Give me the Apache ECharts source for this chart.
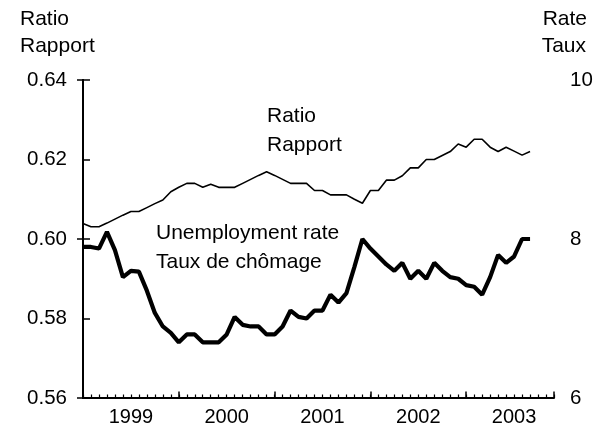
<!DOCTYPE html>
<html>
<head>
<meta charset="utf-8">
<script src="https://cdn.jsdelivr.net/npm/echarts@6/dist/echarts.min.js"></script>
<style>
  html, body { margin: 0; padding: 0; background: #fff; }
  #chart { width: 598px; height: 427px; }
</style>
</head>
<body>
<div id="chart"></div>
<script>
// monthly data, index 0 = Jan 1999
const yearLabels = ["1999", "2000", "2001", "2002", "2003"];
const ratioValues = [
  0.6039, 0.6031, 0.6031, 0.6040, 0.6050, 0.6060, 0.6069, 0.6069, 0.6079, 0.6089, 0.6098, 0.6119,
  0.6130, 0.6140, 0.6140, 0.6130, 0.6138, 0.6130, 0.6130, 0.6130, 0.6140, 0.6150, 0.6160, 0.6169,
  0.6160, 0.6150, 0.6140, 0.6140, 0.6140, 0.6122, 0.6122, 0.6111, 0.6111, 0.6111, 0.6100, 0.6090,
  0.6122, 0.6122, 0.6148, 0.6148, 0.6159, 0.6179, 0.6179, 0.6200, 0.6200, 0.6210, 0.6220, 0.6239,
  0.6231, 0.6251, 0.6251, 0.6231, 0.6220, 0.6231, 0.6221, 0.6211, 0.6220
];
const unempValues = [
  7.90, 7.90, 7.88, 8.09, 7.86, 7.52, 7.60, 7.59, 7.35, 7.07, 6.90, 6.82,
  6.70, 6.80, 6.80, 6.70, 6.70, 6.70, 6.80, 7.02, 6.92, 6.90, 6.90, 6.80,
  6.80, 6.90, 7.10, 7.02, 7.00, 7.10, 7.10, 7.30, 7.20, 7.32, 7.65, 8.00,
  7.88, 7.78, 7.68, 7.60, 7.70, 7.50, 7.60, 7.50, 7.70, 7.60, 7.52, 7.50,
  7.42, 7.40, 7.30, 7.52, 7.80, 7.70, 7.78, 8.00, 8.00
];

const font = "'Liberation Sans', Arial, Helvetica, sans-serif";
const black = "#000";
const textFont = "21px " + font;

const chart = echarts.init(document.getElementById("chart"));

const option = {
  animation: false,
  grid: { left: 83, right: 44, top: 80, bottom: 29, containLabel: false },
  xAxis: [
    {
      // monthly ticks
      type: "value", min: 0, max: 59, interval: 1,
      axisLine: { show: true, lineStyle: { color: black, width: 2 } },
      axisTick: { inside: true, length: 3.5, lineStyle: { color: black, width: 1.2 } },
      axisLabel: { show: false },
      splitLine: { show: false }
    },
    {
      // year separators
      type: "value", position: "bottom", min: 0, max: 59, interval: 12,
      axisLine: { show: false },
      axisTick: { inside: true, length: 6.5, lineStyle: { color: black, width: 1.5 } },
      axisLabel: { show: false },
      splitLine: { show: false }
    },
    {
      // year labels, centred in each year
      type: "value", position: "bottom", min: 0, max: 59, interval: 6,
      axisLine: { show: false },
      axisTick: { show: false },
      axisLabel: {
        margin: 9, fontSize: 20, color: black, fontFamily: font,
        showMinLabel: false, showMaxLabel: false,
        formatter: v => (v % 12 === 6 ? yearLabels[(v - 6) / 12] : "")
      },
      splitLine: { show: false }
    }
  ],
  yAxis: [
    {
      type: "value", position: "left", min: 0.56, max: 0.64, interval: 0.02,
      axisLine: { show: true, lineStyle: { color: black, width: 2 } },
      axisTick: { show: true, inside: true, length: 7, lineStyle: { color: black, width: 1.5 } },
      axisLabel: { margin: 16, fontSize: 20.5, color: black, fontFamily: font, formatter: v => v.toFixed(2) },
      splitLine: { show: false }
    },
    {
      type: "value", position: "right", min: 6, max: 10, interval: 2,
      axisLine: { show: true, lineStyle: { color: black, width: 2 } },
      axisTick: { show: true, inside: true, length: 6, lineStyle: { color: black, width: 1.5 } },
      axisLabel: { margin: 16, fontSize: 20.5, color: black, fontFamily: font, formatter: v => String(v) },
      splitLine: { show: false }
    }
  ],
  series: [
    {
      name: "Ratio", type: "line", xAxisIndex: 0, yAxisIndex: 0,
      data: ratioValues.map((v, i) => [i, v]),
      showSymbol: false, symbol: "none",
      lineStyle: { color: black, width: 1.6 }
    },
    {
      name: "Unemployment rate", type: "line", xAxisIndex: 0, yAxisIndex: 1,
      data: unempValues.map((v, i) => [i, v]),
      showSymbol: false, symbol: "none",
      lineStyle: { color: black, width: 4.2 }
    }
  ],
  graphic: [
    { type: "text", left: 20, top: 9, style: { text: "Ratio", font: textFont, fill: black } },
    { type: "text", left: 20, top: 36, style: { text: "Rapport", font: textFont, fill: black } },
    { type: "text", right: 11, top: 9, style: { text: "Rate", font: textFont, fill: black } },
    { type: "text", right: 12, top: 36, style: { text: "Taux", font: textFont, fill: black } },
    { type: "text", left: 267, top: 106, style: { text: "Ratio", font: textFont, fill: black } },
    { type: "text", left: 267, top: 135, style: { text: "Rapport", font: textFont, fill: black } },
    { type: "text", left: 156, top: 223, style: { text: "Unemployment rate", font: textFont, fill: black } },
    { type: "text", left: 156, top: 252, style: { text: "Taux de chômage", font: textFont, fill: black } }
  ]
};

chart.setOption(option);
</script>
</body>
</html>
